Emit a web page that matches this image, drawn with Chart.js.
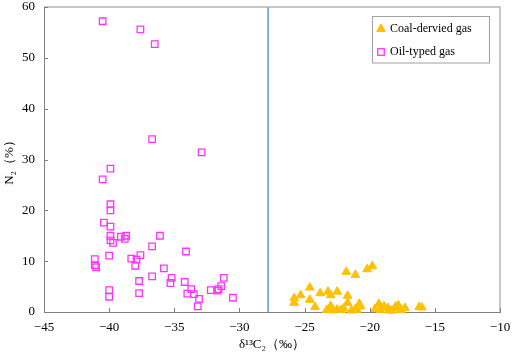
<!DOCTYPE html>
<html><head><meta charset="utf-8">
<script src="https://cdn.jsdelivr.net/npm/chart.js@4/dist/chart.umd.min.js"></script>
<style>html,body{margin:0;padding:0;background:#fff;overflow:hidden;}</style>
</head><body>
<canvas id="c" width="512" height="355"></canvas>
<script>
const seriesNames = ['Coal-dervied gas', 'Oil-typed gas'];
const xTitle = 'δ¹³C₂（‰）';
const yTitle = 'N₂（%）';
const xTickValues = [-45, -40, -35, -30, -25, -20, -15, -10];
const yTickValues = [0, 10, 20, 30, 40, 50, 60];
const dividerX = -27.8;

const coalX = [-25.8,-25.8,-25.3,-24.6,-24.6,-24.2,-23.8,-23.2,-23.0,-22.5,-21.7,-21.7,-21.8,-21.1,-20.2,-19.8,-20.8,-20.7,-23.3,-23.0,-22.8,-22.5,-22.2,-22.0,-21.4,-21.1,-21.0,-23.0,-19.3,-18.9,-18.6,-19.2,-18.5,-18.1,-18.0,-17.8,-17.6,-17.3,-16.2,-16.0,-19.6,-18.3];
const coalY = [2.7,1.8,3.3,4.8,2.4,1.0,3.7,4.0,3.3,4.0,3.2,1.8,7.9,7.3,8.4,9.0,1.6,1.1,0.4,0.8,0.3,0.5,0.4,0.7,0.3,0.6,0.4,1.2,1.6,1.1,0.8,0.4,0.3,0.7,1.1,1.3,0.4,0.8,1.0,0.9,0.6,0.3];

const oilX = [-40.5,-37.6,-36.5,-36.7,-32.9,-39.9,-40.5,-39.9,-39.9,-40.4,-39.9,-39.9,-39.9,-39.7,-39.1,-38.7,-38.8,-36.1,-36.7,-40.0,-41.1,-41.1,-41.0,-38.3,-37.9,-37.6,-38.0,-35.8,-36.7,-37.7,-35.2,-35.3,-40.0,-40.0,-37.7,-34.1,-34.2,-33.7,-34.0,-33.5,-33.1,-33.2,-31.2,-31.4,-31.6,-31.7,-32.2,-30.5];
const oilY = [57.2,55.6,52.7,34.0,31.4,28.2,26.1,21.2,20.0,17.6,16.8,15.0,14.1,13.6,14.8,15.0,14.4,15.0,12.9,11.1,10.4,9.2,8.8,10.5,10.3,11.2,9.1,8.6,7.0,6.1,6.7,5.7,4.3,3.0,3.7,11.9,5.9,4.5,3.6,3.5,2.6,1.1,6.7,5.1,4.5,4.2,4.3,2.8];

const serif = "'Times New Roman', 'Liberation Serif', serif";
const zip = (xs, ys) => xs.map((x, i) => ({x, y: ys[i]}));

const framePlugin = {
  id: 'frame',
  afterDatasetsDraw(chart) {
    const {ctx, chartArea: a, scales} = chart;
    ctx.save();
    ctx.strokeStyle = '#b4b4b4';
    ctx.lineWidth = 1.5;
    ctx.beginPath();
    ctx.moveTo(a.left, a.top); ctx.lineTo(a.right, a.top); ctx.lineTo(a.right, a.bottom);
    ctx.stroke();
    ctx.strokeStyle = '#808080';
    ctx.lineWidth = 1;
    ctx.beginPath();
    xTickValues.forEach(v => { const px = Math.round(scales.x.getPixelForValue(v)) + 0.5; ctx.moveTo(px, a.bottom); ctx.lineTo(px, a.bottom - 4); });
    yTickValues.forEach(v => { const py = Math.round(scales.y.getPixelForValue(v)) + 0.5; ctx.moveTo(a.left, py); ctx.lineTo(a.left + 4, py); });
    ctx.stroke();
    // legend
    const bx = 372, by = 16.5, bw = 117, bh = 46.5;
    ctx.fillStyle = '#fff';
    ctx.fillRect(bx, by, bw, bh);
    ctx.strokeStyle = '#a0a0a0';
    ctx.lineWidth = 1;
    ctx.strokeRect(bx + 0.5, by, bw, bh);
    const ds = chart.data.datasets;
    const rows = [29, 52];
    [0, 1].forEach(i => {
      const d = ds[i];
      const mx = 381, my = rows[i];
      ctx.save();
      ctx.lineWidth = d.borderWidth;
      ctx.strokeStyle = d.borderColor;
      ctx.fillStyle = d.backgroundColor;
      if (d.pointStyle === 'triangle') {
        const r = d.pointRadius;
        ctx.beginPath();
        ctx.moveTo(mx, my - r);
        ctx.lineTo(mx + 0.866 * r, my + 0.5 * r);
        ctx.lineTo(mx - 0.866 * r, my + 0.5 * r);
        ctx.closePath(); ctx.fill(); ctx.stroke();
      } else {
        const s = Math.SQRT1_2 * d.pointRadius;
        ctx.strokeRect(mx - s, my - s, 2 * s, 2 * s);
      }
      ctx.restore();
      ctx.fillStyle = '#000';
      ctx.font = '12px ' + serif;
      ctx.textBaseline = 'middle';
      ctx.textAlign = 'left';
      ctx.fillText(d.label, 390, my);
    });
    ctx.restore();
  }
};

new Chart(document.getElementById('c'), {
  type: 'scatter',
  data: {
    datasets: [
      { label: seriesNames[0], data: zip(coalX, coalY), pointStyle: 'triangle', pointRadius: 5, backgroundColor: '#FFC000', borderColor: '#FFC000', borderWidth: 1, clip: false },
      { label: seriesNames[1], data: zip(oilX, oilY), pointStyle: 'rect', pointRadius: 4.6, backgroundColor: 'rgba(255,255,255,0)', borderColor: '#FF33FF', borderWidth: 1.3, clip: false },
      { type: 'line', label: 'divider', data: [{x: dividerX, y: 0}, {x: dividerX, y: 60}], borderColor: '#5B9BD5', borderWidth: 1.5, pointRadius: 0, showLine: true, fill: false }
    ]
  },
  options: {
    responsive: false,
    animation: false,
    devicePixelRatio: 1,
    layout: { padding: { top: 7, right: 12, left: 0, bottom: 0 } },
    plugins: { legend: { display: false }, tooltip: { enabled: false } },
    scales: {
      x: {
        type: 'linear', min: -45, max: -10,
        afterBuildTicks: s => { s.ticks = xTickValues.map(v => ({value: v})); },
        afterFit: s => { s.height = 43; s.paddingLeft = 0; s.paddingRight = 0; },
        grid: { display: false, drawTicks: false },
        border: { display: true, color: '#808080', width: 1 },
        ticks: { padding: 8, color: '#000', font: { family: serif, size: 13 }, callback: v => v < 0 ? '−' + Math.abs(v) : String(v) },
        title: { display: true, text: xTitle, color: '#000', font: { family: serif, size: 13 }, padding: { top: 2, bottom: 3 } }
      },
      y: {
        type: 'linear', min: 0, max: 60,
        afterBuildTicks: s => { s.ticks = yTickValues.map(v => ({value: v})); },
        afterFit: s => { s.width = 44; s.paddingTop = 0; s.paddingBottom = 0; },
        grid: { display: false, drawTicks: false },
        border: { display: true, color: '#808080', width: 1 },
        ticks: { padding: 9, color: '#000', font: { family: serif, size: 13 } },
        title: { display: true, text: yTitle, color: '#000', font: { family: serif, size: 13 }, padding: { top: 2, bottom: 2 } }
      }
    }
  },
  plugins: [framePlugin]
});
</script>
</body></html>
